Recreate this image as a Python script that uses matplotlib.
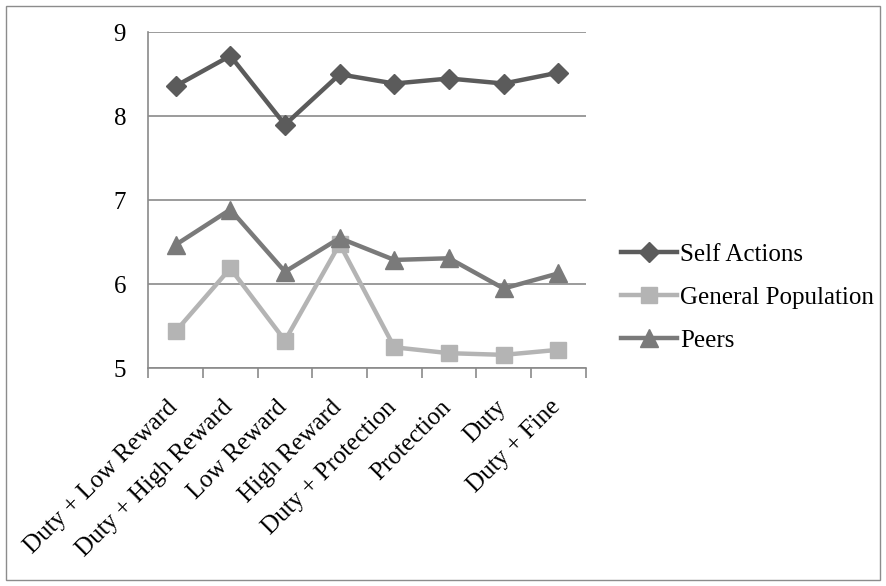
import matplotlib
matplotlib.use("Agg")
import matplotlib.pyplot as plt
from matplotlib.patches import Rectangle
from matplotlib.ticker import FixedLocator
import matplotlib.transforms as mtransforms

categories = ["Duty + Low Reward", "Duty + High Reward", "Low Reward", "High Reward",
              "Duty + Protection", "Protection", "Duty", "Duty + Fine"]
self_actions = [8.36, 8.72, 7.90, 8.50, 8.39, 8.45, 8.39, 8.52]
general_population = [5.44, 6.19, 5.33, 6.48, 5.25, 5.18, 5.16, 5.22]
peers = [6.47, 6.89, 6.15, 6.55, 6.29, 6.31, 5.95, 6.13]
y_ticks = [5, 6, 7, 8, 9]

plt.rcParams['font.family'] = ['Liberation Serif', 'DejaVu Serif']

fig = plt.figure(figsize=(8.86, 5.86), dpi=100)
fig.patches.append(Rectangle((6/886, 6/586), 874/886, 574/586, transform=fig.transFigure,
                             fill=False, edgecolor='#8c8c8c', linewidth=1))
ax = fig.add_axes([148.3/886, 1-368.3/586, 437.4/886, 336/586])

x = list(range(len(categories)))
c_self = '#5b5b5b'
c_gen = '#b4b4b4'
c_peer = '#7a7a7a'
ax.plot(x, self_actions, color=c_self, lw=3.2, marker='D', ms=10, label='Self Actions', zorder=4)
ax.plot(x, general_population, color=c_gen, lw=3.2, marker='s', ms=12, label='General Population', zorder=3)
ax.plot(x, peers, color=c_peer, lw=3.2, marker='^', ms=13, label='Peers', zorder=4)

ax.set_xlim(-0.5, len(categories) - 0.5)
ax.set_ylim(5, 9)
ax.set_yticks(y_ticks)
ax.set_yticklabels([str(v) for v in y_ticks], fontsize=18)
ax.tick_params(axis='y', length=0, pad=16)
ax.yaxis.grid(True, color='#8a8a8a', lw=1.2)
ax.set_axisbelow(True)

ax.set_xticks(x)
ax.set_xticklabels(categories, rotation=45, ha='right', rotation_mode='anchor', fontsize=18)
ax.tick_params(axis='x', length=0, pad=20)
ax.xaxis.set_minor_locator(FixedLocator([i - 0.5 for i in range(len(categories) + 1)]))
ax.tick_params(axis='x', which='minor', length=7, width=1.2, color='#8a8a8a', direction='out')
for lab in ax.get_xticklabels():
    lab.set_transform(lab.get_transform() + mtransforms.ScaledTranslation(-9/100, 0, fig.dpi_scale_trans))

for s in ['top', 'right']:
    ax.spines[s].set_visible(False)
for s in ['left', 'bottom']:
    ax.spines[s].set_color('#8a8a8a')
    ax.spines[s].set_linewidth(1.2)

leg = ax.legend(loc='center left', bbox_to_anchor=(621/886, 1-297.5/586), bbox_transform=fig.transFigure,
                frameon=False, fontsize=18, borderaxespad=0, borderpad=0,
                handlelength=2.25, handletextpad=0.12, labelspacing=0.82)

fig.savefig('out.png', dpi=100)
